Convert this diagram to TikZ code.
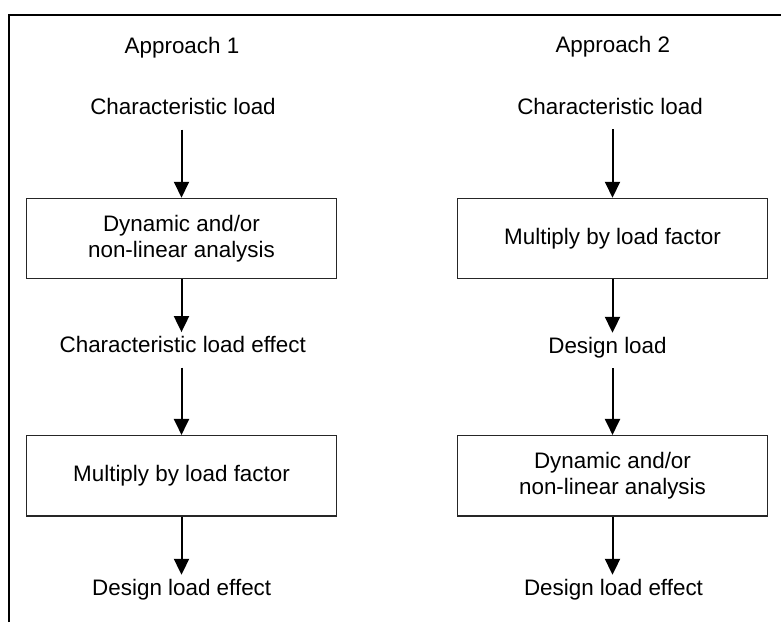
\documentclass[tikz,border=0pt]{standalone}
\usepackage{fontspec}
\setmainfont{Liberation Sans}
\usetikzlibrary{arrows.meta}
\begin{document}
\begin{tikzpicture}[x=1pt,y=-1pt,
  every node/.style={font=\fontsize{22.4}{25.5}\selectfont, inner sep=0pt},
  lbl/.style={anchor=base, text height=16pt, text depth=5pt},
  procbox/.style={draw=black!85, line width=1.2pt, minimum width=309.5pt,
                  minimum height=80.5pt, align=center},
  flow/.style={line width=2pt, -{Triangle[width=15pt,length=16pt]}},
  fromtext/.style={shorten <=10pt},
  totext/.style={shorten >=4pt},
  frameline/.style={line width=2pt}]
\useasboundingbox (0,0) rectangle (781,622);

% surrounding frame (top and left edges)
\draw[frameline] (9,622) -- (9,15) -- (781,15);

% ---- Approach 1 ----
\node[lbl] (h1) at (182,53) {Approach 1};
\node[lbl] (a1) at (183,114.3) {Characteristic load};
\node[procbox] (a2) at (181.5,238.6) {Dynamic and/or\\non-linear analysis};
\node[lbl] (a3) at (182.7,352.3) {Characteristic load effect};
\node[procbox] (a4) at (181.5,475.8) {Multiply by load factor};
\node[lbl] (a5) at (181.7,595) {Design load effect};

\draw[flow,fromtext] (a1.south -| a2.north) -- (a2.north);
\draw[flow,totext] (a2.south) -- (a2.south |- a3.north);
\draw[flow,fromtext] (a3.south -| a4.north) -- (a4.north);
\draw[flow,totext] (a4.south) -- (a4.south |- a5.north);

% ---- Approach 2 ----
\node[lbl] (h2) at (612.8,52) {Approach 2};
\node[lbl] (b1) at (610,114) {Characteristic load};
\node[procbox] (b2) at (612.5,238.6) {Multiply by load factor};
\node[lbl] (b3) at (607.5,353) {Design load};
\node[procbox] (b4) at (612.5,475.8) {Dynamic and/or\\non-linear analysis};
\node[lbl] (b5) at (613.5,595) {Design load effect};

\draw[flow,fromtext] (b1.south -| b2.north) -- (b2.north);
\draw[flow,totext] (b2.south) -- (b2.south |- b3.north);
\draw[flow,fromtext] (b3.south -| b4.north) -- (b4.north);
\draw[flow,totext] (b4.south) -- (b4.south |- b5.north);
\end{tikzpicture}
\end{document}
